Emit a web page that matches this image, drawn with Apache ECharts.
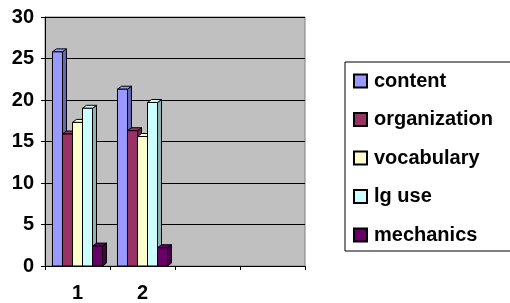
<!DOCTYPE html>
<html>
<head>
<meta charset="utf-8">
<script src="https://cdn.jsdelivr.net/npm/echarts@6/dist/echarts.min.js"></script>
<style>
  html, body { margin: 0; padding: 0; background: #fff; }
  #chart { width: 510px; height: 303px; }
</style>
</head>
<body>
<div id="chart"></div>
<script>
  // data
  const categories = ['1', '2', '', ''];
  const seriesNames = ['content', 'organization', 'vocabulary', 'lg use', 'mechanics'];
  const content = [25.8, 21.3];
  const organization = [15.9, 16.3];
  const vocabulary = [17.3, 15.6];
  const lgUse = [19.0, 19.7];
  const mechanics = [2.4, 2.2];
  const yTicks = [0, 5, 10, 15, 20, 25, 30];

  const values = [content, organization, vocabulary, lgUse, mechanics];
  const fills = ['#9999FF', '#993366', '#FFFFCC', '#CCFFFF', '#660066'];
  const sides = ['#6666B3', '#6B2447', '#B3B38F', '#8FB3B3', '#470047'];
  const font = 'Liberation Sans, Arial, sans-serif';

  const chart = echarts.init(document.getElementById('chart'));

  // 3D-looking bar drawn from the axis scales
  function makeRender(idx) {
    return function (params, api) {
      const cat = api.value(0);
      const val = api.value(1);
      const base = api.coord([cat, 0]);
      const top = api.coord([cat, val]);
      const catW = api.size([1, 0])[0];
      const bw = catW * 0.154;
      const x0 = base[0] - 2.5 * bw + idx * bw;
      const x1 = x0 + bw;
      const dx = 4, dy = 3;
      const y0 = top[1], y1 = base[1];
      const stroke = { stroke: '#000', lineWidth: 1 };
      return {
        type: 'group',
        children: [
          {
            type: 'polygon',
            shape: { points: [[x1, y0], [x1 + dx, y0 - dy], [x1 + dx, y1 - dy], [x1, y1]] },
            style: Object.assign({ fill: sides[idx] }, stroke)
          },
          {
            type: 'polygon',
            shape: { points: [[x0, y0], [x0 + dx, y0 - dy], [x1 + dx, y0 - dy], [x1, y0]] },
            style: Object.assign({ fill: fills[idx] }, stroke)
          },
          {
            type: 'rect',
            shape: { x: x0, y: y0, width: bw, height: y1 - y0 },
            style: Object.assign({ fill: fills[idx] }, stroke)
          }
        ]
      };
    };
  }

  const series = seriesNames.map(function (name, i) {
    return {
      name: name,
      type: 'custom',
      renderItem: makeRender(i),
      itemStyle: { color: fills[i], borderColor: '#000', borderWidth: 1 },
      encode: { x: 0, y: 1 },
      data: values[i].map(function (v, c) { return [c, v]; }),
      z: 3
    };
  });

  chart.setOption({
    animation: false,
    backgroundColor: '#fff',
    grid: {
      left: 45, right: 205, top: 17, bottom: 36,
      show: true,
      backgroundColor: '#C0C0C0',
      borderColor: '#808080',
      borderWidth: 1
    },
    legend: {
      orient: 'vertical',
      left: 345,
      top: 62,
      padding: [9, 60, 6, 8],
      itemWidth: 13,
      itemHeight: 13,
      itemGap: 18.5,
      icon: 'rect',
      borderColor: '#000',
      borderWidth: 1,
      data: seriesNames,
      textStyle: {
        fontFamily: font,
        fontWeight: 'bold',
        fontSize: 20,
        color: '#000',
        padding: [0, 0, 0, 2]
      }
    },
    xAxis: {
      type: 'category',
      data: categories,
      boundaryGap: true,
      axisLine: { lineStyle: { color: '#000' } },
      axisTick: { show: true, length: 4, lineStyle: { color: '#000' } },
      axisLabel: {
        margin: 17,
        fontFamily: font,
        fontWeight: 'bold',
        fontSize: 20,
        color: '#000'
      },
      splitLine: { show: false }
    },
    yAxis: {
      type: 'value',
      min: yTicks[0],
      max: yTicks[yTicks.length - 1],
      interval: 5,
      axisLine: { show: true, lineStyle: { color: '#000' } },
      axisTick: { show: true, length: 4, lineStyle: { color: '#000' } },
      axisLabel: {
        margin: 11,
        fontFamily: font,
        fontWeight: 'bold',
        fontSize: 20,
        color: '#000'
      },
      splitLine: { show: true, lineStyle: { color: '#000', width: 1 } }
    },
    series: series
  });
</script>
</body>
</html>
